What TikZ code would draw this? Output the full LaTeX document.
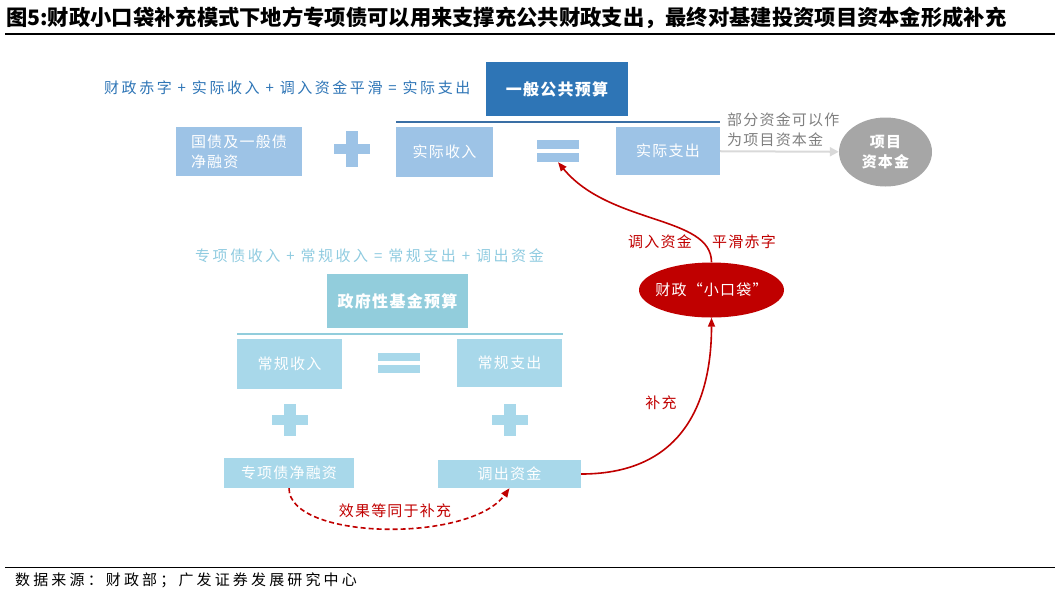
\documentclass[tikz,border=0pt]{standalone}
\usepackage{fontspec}
\setmainfont{Noto Sans CJK SC}[LetterSpace=8]
\newfontfamily\eqfont{Noto Sans CJK SC}[LetterSpace=17]
\newfontfamily\footfont{Noto Sans CJK SC}[LetterSpace=21]
\newfontfamily\titlefont{Noto Sans CJK SC}
\usepackage{xcolor}
\usepackage{tikz}
\usetikzlibrary{calc}
\usetikzlibrary{arrows.meta}
\usetikzlibrary{shapes.geometric}
\definecolor{darkblue}{HTML}{2E75B6}
\definecolor{lineblue}{HTML}{3A6FA5}
\definecolor{lightblue}{HTML}{9DC3E6}
\definecolor{fundteal}{HTML}{92CDDC}
\definecolor{paleteal}{HTML}{A8D8EA}
\definecolor{tealtext}{HTML}{8FCBE0}
\definecolor{darkred}{HTML}{C00000}
\definecolor{capgray}{HTML}{A6A6A6}
\definecolor{arrowgray}{HTML}{D9D9D9}
\definecolor{notegray}{HTML}{7F7F7F}
\tikzstyle{headbox}=[shape=rectangle, text=white, inner sep=0pt, font=\fontsize{16}{20}\selectfont\bfseries]
\tikzstyle{lightbox}=[shape=rectangle, text=white, inner sep=0pt, font=\fontsize{15}{20}\selectfont]
\tikzstyle{eqtext}=[inner sep=0pt, font=\eqfont\fontsize{15}{20}\selectfont]
\tikzstyle{redtext}=[inner sep=0pt, text=darkred, font=\fontsize{15}{20}\selectfont]
\tikzstyle{notetext}=[inner sep=0pt, text=notegray, font=\fontsize{15}{20}\selectfont]
\tikzstyle{redarrow}=[-{Triangle[length=9pt, width=7pt]}, line width=1.6pt, color=darkred]

\begin{document}
\begin{tikzpicture}[x=1pt, y=-1pt]
\useasboundingbox (0,0) rectangle (1059,598);

% title and source
\node [inner sep=0pt, anchor=west, font=\titlefont\bfseries\fontsize{21.3}{24}\selectfont] (title) at (6,18) {图5:财政小口袋补充模式下地方专项债可以用来支撑充公共财政支出，最终对基建投资项目资本金形成补充};
\draw [line width=1.2pt, black] (5,34) -- (1055,34);
\draw [line width=1pt, black] (5,567) -- (1055,567);
\node [inner sep=0pt, anchor=west, font=\footfont\fontsize{15}{20}\selectfont] (source) at (15,580) {数据来源：财政部；广发证券发展研究中心};

% general public budget
\node [eqtext, text=darkblue, anchor=west] (topeq) at (104,88) {财政赤字 + 实际收入 + 调入资金平滑 = 实际支出};
\node [headbox, fill=darkblue, minimum width=142, minimum height=54] (general) at (557,89) {一般公共预算};
\draw [line width=2.5pt, lineblue] (396,122) -- (720,122);
\node [lightbox, fill=lightblue, minimum width=126, minimum height=49, align=left] (bondtop) at (239,151.5) {国债及一般债\\净融资};
\node [lightbox, fill=lightblue, minimum width=97, minimum height=50] (actualin) at (444.5,152) {实际收入};
\node [lightbox, fill=lightblue, minimum width=104, minimum height=48] (actualout) at (668,151) {实际支出};
\fill [lightblue] (334,144) rectangle (370,154);
\fill [lightblue] (346,131) rectangle (358,167);
\node [inner sep=0pt, minimum width=42, minimum height=22] (eqtop) at (558,151) {};
\fill [lightblue] (eqtop.north west) rectangle ($(eqtop.north east)+(0,9)$);
\fill [lightblue] (eqtop.south west) rectangle ($(eqtop.south east)+(0,-9)$);

\node [shape=ellipse, fill=capgray, text=white, inner sep=0pt, minimum width=93, minimum height=69, align=center, font=\fontsize{15}{20}\selectfont\bfseries] (capital) at (885.5,152) {项目\\资本金};
\node [notetext, anchor=west, align=left] (partnote) at (727,130) {部分资金可以作\\为项目资本金};
\draw [-{Triangle[length=9pt, width=9pt]}, line width=2pt, arrowgray] (actualout) -- (capital);

% government fund budget
\node [eqtext, text=tealtext, anchor=west] (fundeq) at (195,256) {专项债收入 + 常规收入 = 常规支出 + 调出资金};
\node [headbox, fill=fundteal, minimum width=141, minimum height=54] (fund) at (397.5,301) {政府性基金预算};
\draw [line width=2.5pt, fundteal] (237,334) -- (563,334);
\node [lightbox, fill=paleteal, minimum width=105, minimum height=50] (regin) at (289.5,364) {常规收入};
\node [lightbox, fill=paleteal, minimum width=105, minimum height=48] (regout) at (509.5,363) {常规支出};
\node [inner sep=0pt, minimum width=42, minimum height=20] (eqmid) at (399,363) {};
\fill [paleteal] (eqmid.north west) rectangle ($(eqmid.north east)+(0,8)$);
\fill [paleteal] (eqmid.south west) rectangle ($(eqmid.south east)+(0,-8)$);
\fill [paleteal] (272,415) rectangle (308,425);
\fill [paleteal] (284,404) rectangle (296,436);
\fill [paleteal] (492,415) rectangle (528,425);
\fill [paleteal] (504,404) rectangle (516,436);
\node [lightbox, fill=paleteal, minimum width=130, minimum height=30] (bondnet) at (289,473) {专项债净融资};
\node [lightbox, fill=paleteal, minimum width=143, minimum height=28] (dispatch) at (509.5,474) {调出资金};

% fiscal small pocket
\node [shape=ellipse, fill=darkred, inner sep=0pt, minimum width=145, minimum height=55] (pocket) at (711.5,290) {};
\node [inner sep=0pt, text=white, font=\fontsize{15}{20}\selectfont] (pockettext) at (pocket.center) {财政“小口袋”};
\node [redtext] (transfer) at (660,242) {调入资金};
\node [redtext] (smooth) at (744,242) {平滑赤字};
\node [redtext] (supply) at (661,403) {补充};
\node [redtext] (same) at (395,511) {效果等同于补充};

\draw [redarrow] (pocket.north) .. controls +(0,-47) and +(52,63) .. (eqtop.south);
\draw [redarrow] (dispatch.east) .. controls +(110,0) and +(0,72) .. (pocket.south);
\draw [redarrow, dashed, dash pattern=on 5pt off 3pt] (bondnet.south) .. controls +(0,52) and +(-40,55) .. (dispatch.south);
\end{tikzpicture}
\end{document}
